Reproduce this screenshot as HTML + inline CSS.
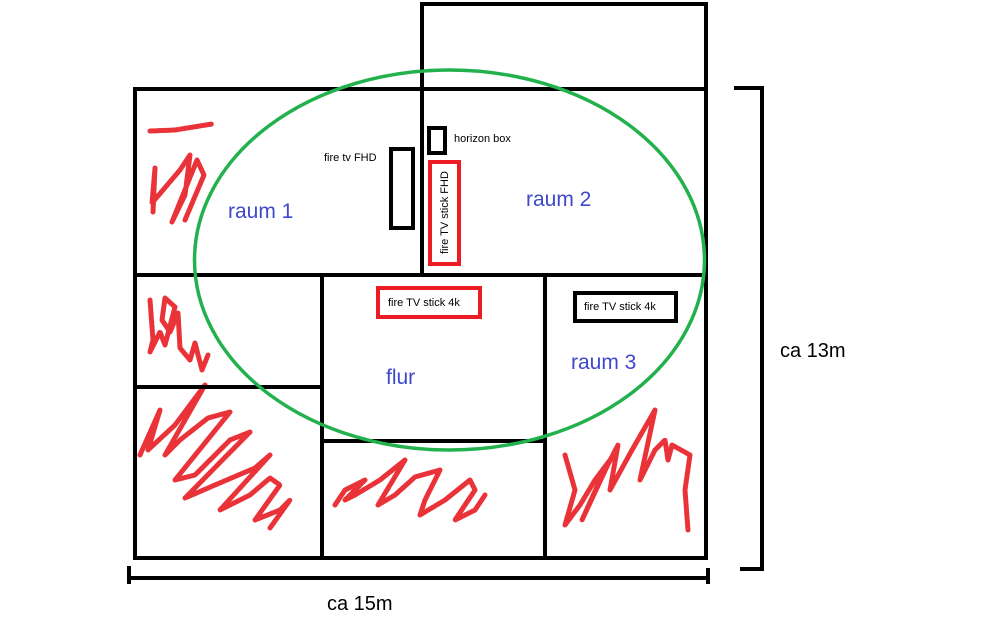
<!DOCTYPE html>
<html><head><meta charset="utf-8"><style>
html,body{margin:0;padding:0;background:#fff}
svg{display:block}
text{font-family:"Liberation Sans","DejaVu Sans",sans-serif}
</style></head><body>
<svg width="1008" height="630" viewBox="0 0 1008 630" xmlns="http://www.w3.org/2000/svg">
<g fill="none" stroke="#e81c24" stroke-width="5" stroke-linecap="round" stroke-linejoin="round" stroke-dasharray="3 1.2" opacity="0.9">
<polyline points="150,131 175,130 212,124"/>
<polyline points="153,212 155,168 152,203 180,170 190,155 185,195 172,222 197,160 204,175 185,220"/>
<polyline points="150,300 153,340 150,352 160,332 165,345 175,307 165,298 162,320 170,332 178,313 180,348 190,360 195,343 202,370 208,355"/>
<polyline points="140,455 160,410 148,450 175,425 205,385 165,455 180,440 208,418 230,412 175,480 195,475 230,440 250,432 185,498 215,485 255,468 270,455 220,510 250,495 270,478 280,485 255,520 280,510 290,500 270,528"/>
<polyline points="335,505 345,490 365,480 345,500 355,495 380,480 405,460 378,505 395,495 415,477 440,470 425,500 420,515 445,500 470,480 475,490 455,520 475,510 485,495"/>
<polyline points="565,455 575,490 565,525 580,505 595,480 610,460 582,520 600,480 618,445 610,490 632,450 655,410 640,480 655,450 665,440 668,460 672,445 690,455 685,490 688,530"/>
</g>
<g stroke="#000" stroke-width="4" fill="none" stroke-linecap="square">
<rect x="135" y="89" width="571" height="469"/>
<polyline points="422,275 422,4 706,4 706,89"/>
<line x1="135" y1="275" x2="706" y2="275"/>
<line x1="322" y1="275" x2="322" y2="558"/>
<line x1="545" y1="275" x2="545" y2="558"/>
<line x1="135" y1="387" x2="322" y2="387"/>
<line x1="322" y1="441" x2="545" y2="441"/>
<polyline points="736,88 762,88 762,569 742,569"/>
<line x1="129" y1="578" x2="708" y2="578"/>
<line x1="129" y1="568" x2="129" y2="582"/>
<line x1="708" y1="570" x2="708" y2="582"/>
<rect x="391" y="149" width="22" height="79"/>
<rect x="429" y="128" width="16" height="25"/>
<rect x="575" y="293" width="101" height="28"/>
</g>
<ellipse cx="449.5" cy="260" rx="255" ry="190" fill="none" stroke="#22b14c" stroke-width="3.5"/>
<g stroke="#ed1c24" stroke-width="4" fill="none">
<rect x="430" y="162" width="29" height="102"/>
<rect x="378" y="288" width="102" height="29"/>
</g>
<g fill="#000" font-size="11">
<text x="324" y="161">fire tv FHD</text>
<text x="454" y="142">horizon box</text>
<text x="388" y="306">fire TV stick 4k</text>
<text x="584" y="310">fire TV stick 4k</text>
<text transform="translate(448,254) rotate(-90)">fire TV stick FHD</text>
</g>
<g fill="#3f48cc" font-size="21">
<text x="228" y="218">raum 1</text>
<text x="526" y="206">raum 2</text>
<text x="386" y="384">flur</text>
<text x="571" y="369">raum 3</text>
</g>
<g fill="#000" font-size="20">
<text x="780" y="357">ca 13m</text>
<text x="327" y="610">ca 15m</text>
</g>
</svg>
</body></html>
